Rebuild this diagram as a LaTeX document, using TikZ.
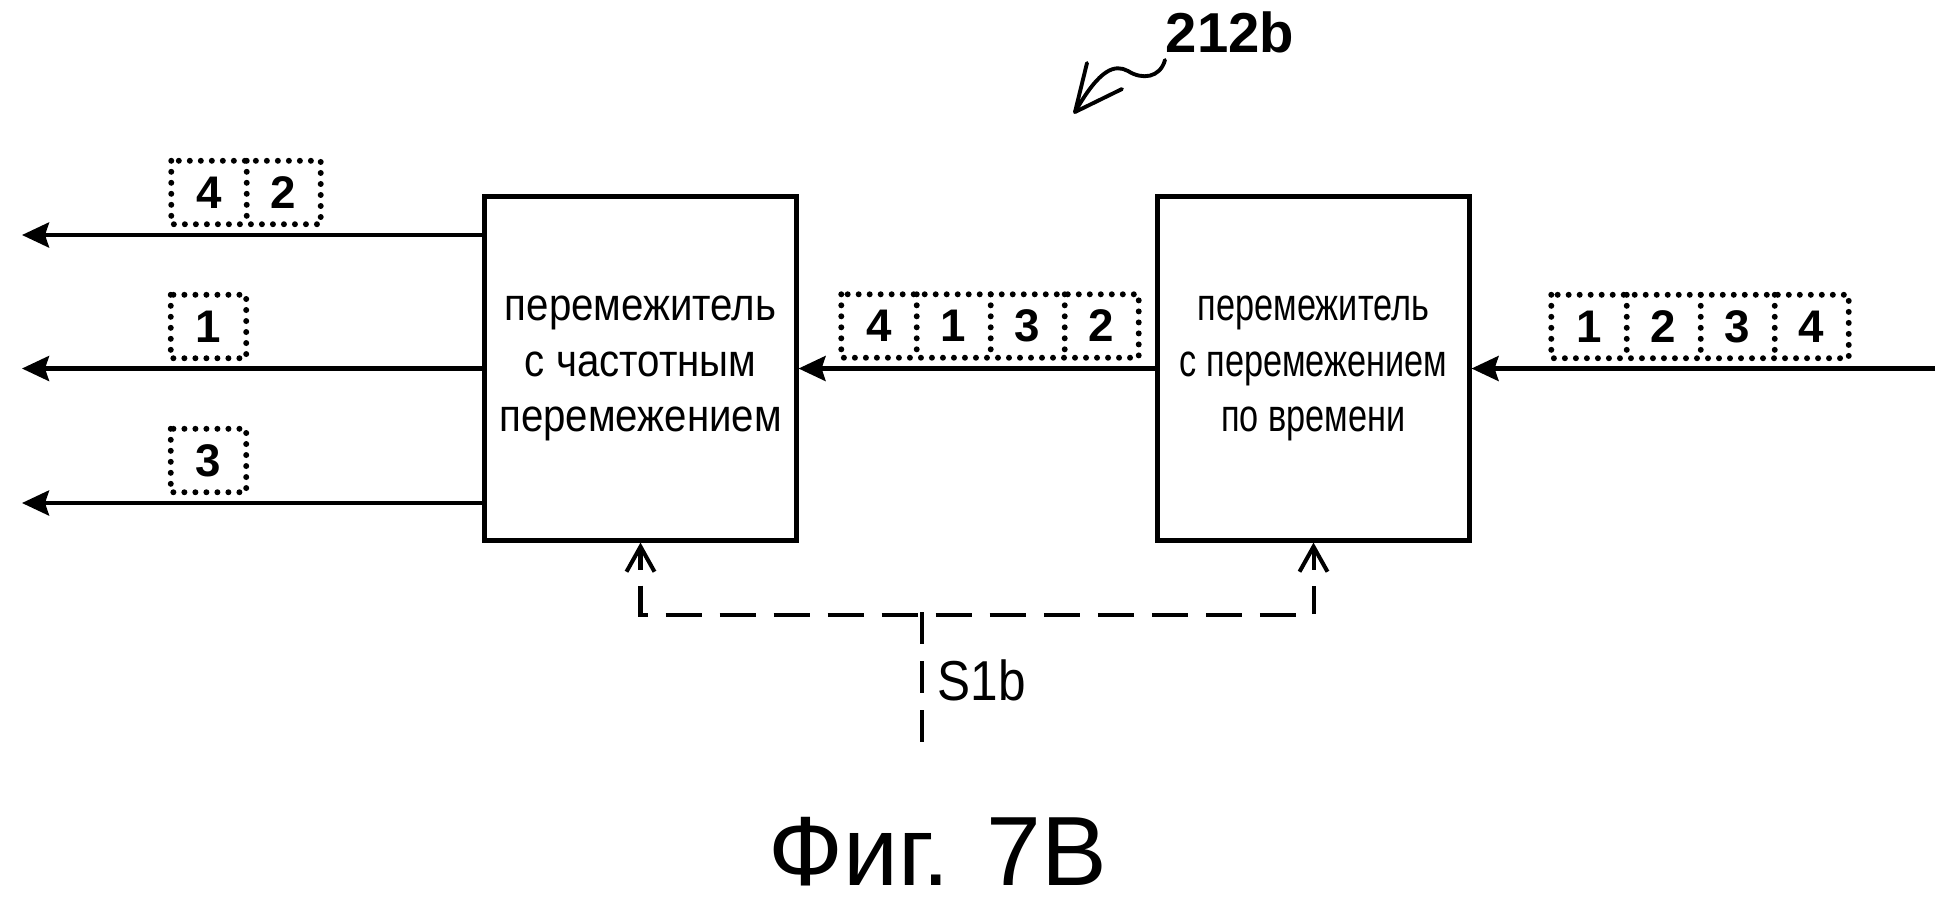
\documentclass[tikz,border=0pt]{standalone}
\usepackage{fontspec}
\setmainfont{Liberation Sans}
\newfontfamily\condA[FakeStretch=0.88]{Liberation Sans}
\newfontfamily\condB[FakeStretch=0.75]{Liberation Sans}
\usetikzlibrary{arrows.meta,calc}
\begin{document}
\begin{tikzpicture}[x=0.01cm,y=-0.01cm,
  blk/.style={draw, line width=1.4pt, minimum width=3.11cm, minimum height=3.43cm, inner sep=0pt, align=center},
  sig/.style={line width=1.15pt, -{Stealth[length=0.27cm,width=0.25cm,inset=0.04cm]}},
  cell/.style={minimum width=0.74cm, minimum height=0.62cm, inner sep=0pt, font=\bfseries\fontsize{13}{15}\selectfont},
  dots/.style={line width=1.7pt, line cap=round, dash pattern=on 0pt off 0.11cm},
  ctrl/.style={line width=1.15pt, dash pattern=on 0.36cm off 0.18cm},
  ctrlv/.style={line width=1.15pt, dash pattern=on 0.32cm off 0.17cm},
  barb/.style={line width=1.15pt, -{Straight Barb[length=0.25cm,width=0.28cm]}},
]
\useasboundingbox (0,0) rectangle (1949,902);

% blocks
\node[blk, font=\condA\fontsize{13}{15.8}\selectfont] (FI) at (640.5,368.5) {перемежитель\\с частотным\\перемежением};
\node[blk, font=\condB\fontsize{13}{15.8}\selectfont] (TI) at (1313.5,368.5) {перемежитель\\с перемежением\\по времени};

% signal arrows
\coordinate (in) at (1935,368.5);
\coordinate (o1) at (22,235);
\coordinate (o2) at (22,368.5);
\coordinate (o3) at (22,503);
\draw[sig] (in) -- (in -| TI.east);
\draw[sig] (TI.west) -- (FI.east);
\draw[sig] (FI.west |- o1) -- (o1);
\draw[sig] (FI.west |- o2) -- (o2);
\draw[sig] (FI.west |- o3) -- (o3);

% dotted symbol groups
\node[cell] (a4) at (209,192.5) {4};
\node[cell] (a2) at (283,192.5) {2};
\draw[dots] (a4.north west) rectangle (a2.south east);
\draw[dots] (a4.north east) -- (a4.south east);

\node[cell] (b1) at (208.5,326.5) {1};
\draw[dots] (b1.north west) rectangle (b1.south east);
\node[cell] (b3) at (208.5,460.5) {3};
\draw[dots] (b3.north west) rectangle (b3.south east);

\node[cell] (m4) at (879,326) {4};
\node[cell] (m1) at (953,326) {1};
\node[cell] (m3) at (1027,326) {3};
\node[cell] (m2) at (1101,326) {2};
\draw[dots] (m4.north west) rectangle (m2.south east);
\draw[dots] (m4.north east) -- (m4.south east);
\draw[dots] (m1.north east) -- (m1.south east);
\draw[dots] (m3.north east) -- (m3.south east);

\node[cell] (i1) at (1589,326.5) {1};
\node[cell] (i2) at (1663,326.5) {2};
\node[cell] (i3) at (1737,326.5) {3};
\node[cell] (i4) at (1811,326.5) {4};
\draw[dots] (i1.north west) rectangle (i4.south east);
\draw[dots] (i1.north east) -- (i1.south east);
\draw[dots] (i2.north east) -- (i2.south east);
\draw[dots] (i3.north east) -- (i3.south east);

% control signal
\coordinate (bus) at (922,612);
\coordinate (s1end) at (922,748);
\draw[ctrl] ($(FI.south)+(0,43)$) -- ($(FI.south)+(0,72)$) -| ($(TI.south)+(0,43)$);
\draw[barb] ($(FI.south)+(0,27)$) -- (FI.south);
\draw[barb] ($(TI.south)+(0,27)$) -- (TI.south);
\draw[ctrlv] (bus) -- (s1end);
\node[anchor=base west, font=\condA\fontsize{16}{18}\selectfont, inner sep=0pt] (s1b) at (937,700) {S1b};

% reference label
\node[anchor=base west, font=\bfseries\fontsize{16}{18}\selectfont, inner sep=0pt] (ref) at (1165,52) {212b};
\draw[line width=1.1pt, line cap=round] (1165,60) .. controls (1160,78) and (1142,80) .. (1128,71) .. controls (1115,64) and (1100,68) .. (1075,112);
\draw[line width=1.1pt, line cap=round, line join=round] (1087,63) -- (1075,112) -- (1122,89);

% caption
\node[anchor=base, font=\fontsize{28}{33}\selectfont, inner sep=0pt] (cap) at (938,885) {Фиг. 7B};
\end{tikzpicture}
\end{document}
